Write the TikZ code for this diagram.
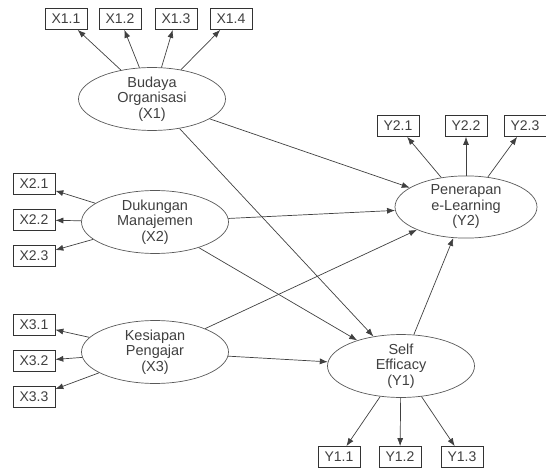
\documentclass[tikz,border=0pt]{standalone}
\usepackage{fontspec}
\setmainfont{Liberation Sans}
\usetikzlibrary{shapes.geometric,arrows.meta}
\begin{document}
\begin{tikzpicture}[x=1pt, y=-1pt,
  ind/.style={draw=black!80, line width=0.7pt, fill=white, text=black!75, minimum width=42pt, minimum height=21pt, inner sep=1pt, font=\fontsize{14}{15}\selectfont},
  lat/.style={ellipse, draw=black!65, line width=0.7pt, fill=white, text=black!75, minimum width=147pt, minimum height=62pt, inner sep=0pt, align=center, font=\fontsize{14.5}{15.5}\selectfont},
  path/.style={-{Latex[length=8pt,width=6pt]}, draw=black!75, line width=0.7pt}]
\useasboundingbox (0,0) rectangle (546,470);
% latent variables
\node[lat] at (152, 99) (x1) {Budaya\\Organisasi\\(X1)};
\node[lat] at (155, 222) (x2) {Dukungan\\Manajemen\\(X2)};
\node[lat] at (155, 352) (x3) {Kesiapan\\Pengajar\\(X3)};
\node[lat, minimum width=142pt] at (466, 207) (y2) {Penerapan\\e-Learning\\(Y2)};
\node[lat] at (401, 366) (y1) {Self\\Efficacy\\(Y1)};
% indicators
\node[ind] at (66, 19) (x11) {X1.1};
\node[ind] at (120, 19) (x12) {X1.2};
\node[ind] at (176, 19) (x13) {X1.3};
\node[ind] at (231, 19) (x14) {X1.4};
\node[ind] at (34, 184) (x21) {X2.1};
\node[ind] at (34, 220) (x22) {X2.2};
\node[ind] at (34, 256) (x23) {X2.3};
\node[ind] at (34, 325) (x31) {X3.1};
\node[ind] at (34, 361) (x32) {X3.2};
\node[ind] at (34, 397) (x33) {X3.3};
\node[ind] at (398, 126) (y21) {Y2.1};
\node[ind] at (466, 126) (y22) {Y2.2};
\node[ind] at (525, 126) (y23) {Y2.3};
\node[ind] at (339, 457) (y11) {Y1.1};
\node[ind] at (400, 457) (y12) {Y1.2};
\node[ind] at (462, 457) (y13) {Y1.3};
% loadings
\draw[path] (x1) -- (x11);
\draw[path] (x1) -- (x12);
\draw[path] (x1) -- (x13);
\draw[path] (x1) -- (x14);
\draw[path] (x2) -- (x21);
\draw[path] (x2) -- (x22);
\draw[path] (x2) -- (x23);
\draw[path] (x3) -- (x31);
\draw[path] (x3) -- (x32);
\draw[path] (x3) -- (x33);
\draw[path] (y2) -- (y21);
\draw[path] (y2) -- (y22);
\draw[path] (y2) -- (y23);
\draw[path] (y1) -- (y11);
\draw[path] (y1) -- (y12);
\draw[path] (y1) -- (y13);
% structural paths
\draw[path] (x1) -- (y2);
\draw[path] (x1) -- (y1);
\draw[path] (x2) -- (y2);
\draw[path] (x2) -- (y1);
\draw[path] (x3) -- (y2);
\draw[path] (x3) -- (y1);
\draw[path] (y1) -- (y2);
\end{tikzpicture}
\end{document}
